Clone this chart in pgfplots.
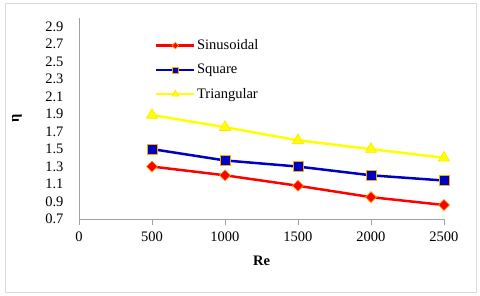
\documentclass[border=0pt]{standalone}
\usepackage{fontspec}
\setmainfont{Liberation Serif}
\usepackage{pgfplots}
\pgfplotsset{compat=1.18}
\definecolor{mred}{RGB}{255,0,0}
\definecolor{mblue}{RGB}{0,0,192}
\definecolor{myel}{RGB}{255,255,0}
\definecolor{morange}{RGB}{255,170,0}
\definecolor{frame}{RGB}{217,217,217}
\definecolor{axgray}{RGB}{160,160,160}
\begin{document}
\begin{tikzpicture}[x=1pt,y=1pt]
\useasboundingbox (-79,-77) rectangle (401,219);
\draw[color=frame, line width=1pt] (-73,-74) rectangle (397,215);
\begin{axis}[
  at={(0,0)}, anchor=south west,
  scale only axis, width=365pt, height=201pt,
  xmin=0, xmax=2500, ymin=0.7, ymax=3.0,
  axis x line*=bottom, axis y line*=left,
  axis line style={axgray, line width=0.8pt},
  xtick={0,500,1000,1500,2000,2500},
  ytick={0.7,0.9,1.1,1.3,1.5,1.7,1.9,2.1,2.3,2.5,2.7,2.9},
  yticklabels={0.7,0.9,1.1,1.3,1.5,1.7,1.9,2.1,2.3,2.5,2.7,2.9},
  xticklabels={0,500,1000,1500,2000,2500},
  ytick style={draw=none},
  xtick style={axgray, line width=0.8pt},
  tick align=outside, major tick length=6pt,
  tick label style={font=\fontsize{14.5}{16}\selectfont},
  /pgf/number format/assume math mode=true,
  yticklabel style={xshift=-6pt},
  xticklabel style={yshift=-3pt},
  xlabel={\bfseries Re},
  ylabel={\bfseries η},
  label style={font=\fontsize{14.5}{16}\selectfont},
  xlabel style={at={(rel axis cs:0.5,0)}, anchor=center, yshift=-42pt},
  ylabel style={at={(rel axis cs:0,0.5)}, anchor=center, yshift=62pt},
  legend style={draw=none, fill=none, at={(rel axis cs:0.208,0.9)}, anchor=north west,
    font=\fontsize{14.5}{16}\selectfont, row sep=10pt, inner sep=0pt,
    nodes={inner sep=1.5pt}},
  legend cell align=left,
  legend image code/.code={\draw[mark repeat=2,mark phase=2,#1, every mark/.append style={scale=0.6}] plot coordinates {(0pt,0pt) (19pt,0pt) (38pt,0pt)};},
]
\addplot[mred, line width=2.5pt, mark=square*, mark size=3.9pt, mark options={fill=mred, draw=morange, line width=0.6pt, solid, rotate=45}]
  coordinates {(500,1.30) (1000,1.20) (1500,1.08) (2000,0.95) (2500,0.86)};
\addlegendentry{Sinusoidal}
\addplot[mblue, line width=2.5pt, mark=square*, mark size=5pt, mark options={fill=mblue, draw=morange, line width=0.6pt, solid}]
  coordinates {(500,1.50) (1000,1.37) (1500,1.30) (2000,1.20) (2500,1.14)};
\addlegendentry{Square}
\addplot[myel, line width=2.5pt, mark=triangle*, mark size=6.5pt, mark options={fill=myel, draw=myel!80!orange, line width=0.6pt, solid}]
  coordinates {(500,1.89) (1000,1.75) (1500,1.60) (2000,1.50) (2500,1.40)};
\addlegendentry{Triangular}
\end{axis}
\end{tikzpicture}
\end{document}
